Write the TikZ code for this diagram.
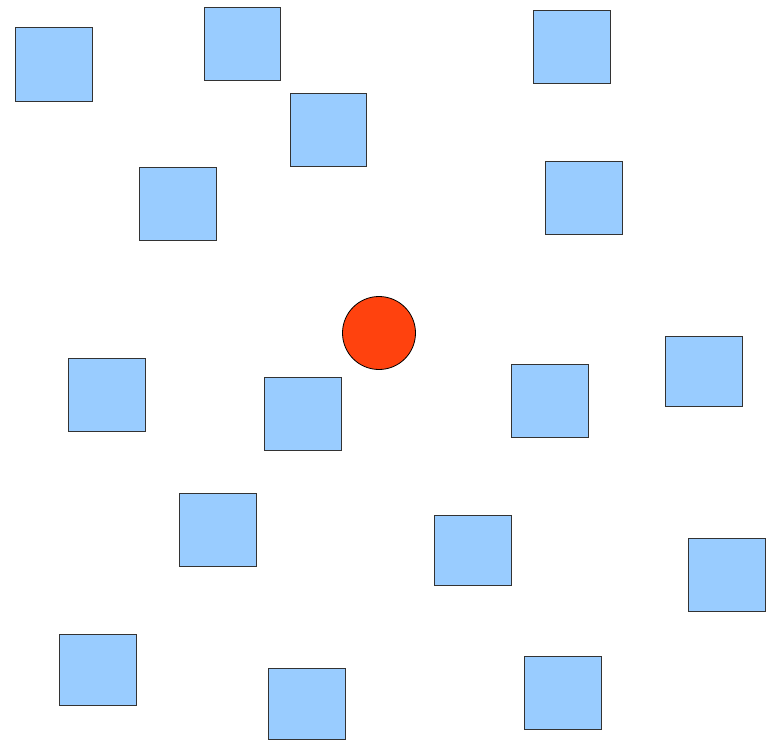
\documentclass[tikz,border=0pt]{standalone}
\begin{document}
\begin{tikzpicture}[x=1pt,y=-1pt,
  sq/.style={draw=black!80,fill=bluefill,line width=0.9pt},
  ball/.style={draw=black,fill=redfill,line width=0.8pt}]
\definecolor{bluefill}{HTML}{99CCFF}
\definecolor{redfill}{HTML}{FF420E}
\useasboundingbox (0,0) rectangle (769,741);
\foreach \n/\a/\b/\c/\d in {
 s1/15/27/92/101, s2/204/7/280/80, s3/533/10/610/83, s4/290/93/366/166,
 s5/139/167/216/240, s6/545/161/622/234, s7/68/358/145/431, s8/264/377/341/450,
 s9/511/364/588/437, s10/665/336/742/406, s11/179/493/256/566, s12/434/515/511/585,
 s13/688/538/765/611, s14/59/634/136/705, s15/268/668/345/739, s16/524/656/601/729}
 {\draw[sq] (\a,\b) rectangle (\c,\d) coordinate (\n);}
\node[ball,circle,minimum size=73pt,inner sep=0pt] (c) at (379,333) {};
\end{tikzpicture}
\end{document}
